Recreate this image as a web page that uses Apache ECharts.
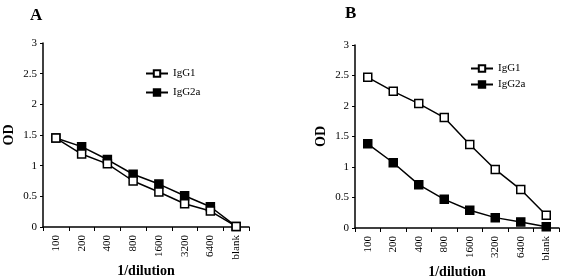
<!DOCTYPE html>
<html><head><meta charset="utf-8">
<script src="https://cdn.jsdelivr.net/npm/echarts@6/dist/echarts.min.js"></script>
<style>html,body{margin:0;padding:0;background:#fff}#c{width:565px;height:279px}</style>
</head><body><div id="c"></div>
<script>
var categories = ['100','200','400','800','1600','3200','6400','blank'];
var yTicks = [0, 0.5, 1, 1.5, 2, 2.5, 3];
var A_IgG1  = [1.45, 1.19, 1.03, 0.75, 0.57, 0.38, 0.26, 0.01];
var A_IgG2a = [1.45, 1.31, 1.10, 0.86, 0.70, 0.51, 0.33, 0.01];
var B_IgG1  = [2.47, 2.24, 2.04, 1.81, 1.37, 0.96, 0.63, 0.21];
var B_IgG2a = [1.38, 1.07, 0.71, 0.47, 0.29, 0.17, 0.10, 0.02];

var FONT = 'Liberation Serif';
var chart = echarts.init(document.getElementById('c'), null, {renderer:'canvas'});

function xAxis(gi){
  return {type:'category', gridIndex:gi, data:categories, boundaryGap:true,
    axisLine:{lineStyle:{color:'#000',width:1.5}},
    axisTick:{show:true, inside:false, length:4, lineStyle:{color:'#000',width:1}, alignWithLabel:false},
    axisLabel:{rotate:90, color:'#000', fontFamily:FONT, fontSize:11, margin:8, interval:0},
    name:'1/dilution', nameLocation:'middle', nameGap:37, nameMoveOverlap:false,
    nameTextStyle:{fontFamily:FONT, fontWeight:'bold', fontSize:14, color:'#000'}};
}
function yAxis(gi){
  return {type:'value', gridIndex:gi, min:0, max:3, interval:0.5,
    axisLine:{show:true, lineStyle:{color:'#000',width:1.5}},
    axisTick:{show:true, length:3, lineStyle:{color:'#000',width:1}},
    splitLine:{show:false},
    axisLabel:{color:'#000', fontFamily:FONT, fontSize:11, margin:6,
      formatter:function(v){ return yTicks.indexOf(v) >= 0 ? String(v) : ''; }},
    name:'OD', nameLocation:'middle', nameGap:27, nameRotate:90, nameMoveOverlap:false,
    nameTextStyle:{fontFamily:FONT, fontWeight:'bold', fontSize:14, color:'#000'}};
}
function series(name, data, gi, open){
  return {name:name, type:'line', xAxisIndex:gi, yAxisIndex:gi, data:data,
    symbol:'rect', symbolSize:8, showSymbol:true,
    lineStyle:{color:'#000', width:1.5},
    itemStyle:{color: open ? '#fff' : '#000', borderColor:'#000', borderWidth:1.5},
    z: open ? 3 : 2, animation:false};
}
function legend(left, top, gap){
  return {data:['IgG1','IgG2a'], left:left, top:top, orient:'vertical', itemGap:gap,
    itemWidth:22, itemHeight:8, selectedMode:false, padding:0,
    textStyle:{fontFamily:FONT, fontSize:11, color:'#000'}};
}

chart.setOption({
  animation:false,
  backgroundColor:'#fff',
  title:[
    {text:'A', left:30, top:7, padding:0, textStyle:{fontFamily:FONT, fontWeight:'bold', fontSize:17, color:'#000'}},
    {text:'B', left:345, top:5, padding:0, textStyle:{fontFamily:FONT, fontWeight:'bold', fontSize:17, color:'#000'}}
  ],
  legend:[legend(145, 68, 8), legend(470, 63, 5)],
  grid:[
    {left:43, top:43, width:206, height:184, outerBoundsMode:'none', containLabel:false},
    {left:355, top:45, width:204, height:183, outerBoundsMode:'none', containLabel:false}
  ],
  xAxis:[xAxis(0), xAxis(1)],
  yAxis:[yAxis(0), yAxis(1)],
  series:[
    series('IgG2a', A_IgG2a, 0, false),
    series('IgG1', A_IgG1, 0, true),
    series('IgG2a', B_IgG2a, 1, false),
    series('IgG1', B_IgG1, 1, true)
  ]
});
</script></body></html>
